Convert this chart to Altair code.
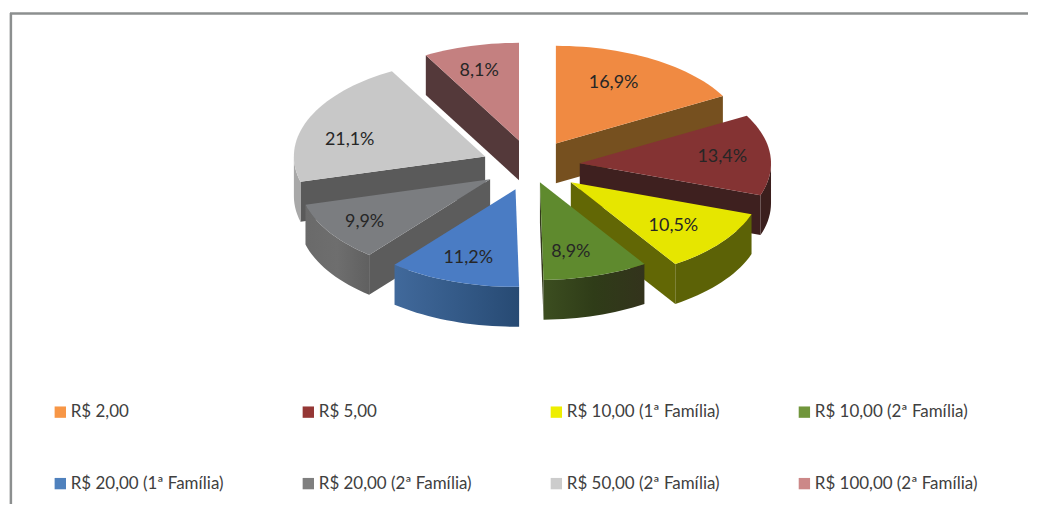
import math
import altair as alt

# ---- chart values ----
categories = ["R$ 2,00", "R$ 5,00", "R$ 10,00 (1ª Família)", "R$ 10,00 (2ª Família)",
              "R$ 20,00 (1ª Família)", "R$ 20,00 (2ª Família)", "R$ 50,00 (2ª Família)", "R$ 100,00 (2ª Família)"]
shares = [16.9, 13.4, 10.5, 8.9, 11.2, 9.9, 21.1, 8.1]
labels = ["16,9%", "13,4%", "10,5%", "8,9%", "11,2%", "9,9%", "21,1%", "8,1%"]

# ---- styles ----
legend_colors = ["#f79646", "#953735", "#eeee00", "#71963c", "#4f81bd", "#7f7f7f", "#cccccc", "#cc8888"]
top_colors = ["#f08a42", "#843333", "#e6e600", "#5f8a2e", "#4a7cc4", "#7b7d80", "#c8c8c8", "#c48080"]
face_colors = ["#76501f", "#3e201f", "#626705", "#33391c", "#345a88", "#5c5c5c", "#5a5a5a", "#54393a"]
wall_colors = ["#76501f", "#3b1f1d", "#5c6206", "#33391c", "#345a88", "#6e6e6e", "#a8a8a8", "#54393a"]

# ---- layout (page pixels) ----
W, H = 1022, 497
apexes = [(556, 143), (580, 163), (571, 182), (540, 182), (515.5, 189), (490, 179), (485, 156), (519, 140)]
label_pos = [(614, 82), (723, 157), (674, 226), (571, 252), (468, 258), (364, 222), (349, 140), (479, 70)]
RX, RY, DEPTH = 192, 98, 40
paint_order = [7, 6, 0, 1, 5, 2, 4, 3]
FONT = "Lato"

x_scale = alt.Scale(domain=[8, 8 + W], range=[0, W], nice=False, zero=False)
y_scale = alt.Scale(domain=[8 + H, 8], range=[H, 0], nice=False, zero=False)
X = lambda f: alt.X(f, type="quantitative", scale=x_scale, axis=None)
Y = lambda f: alt.Y(f, type="quantitative", scale=y_scale, axis=None)

total = sum(shares)
edges = [0.0]
for s in shares:
    edges.append(edges[-1] + s / total * 360)


def rim(ax, ay, a, dy=0):
    t = math.radians(a)
    return (ax + RX * math.sin(t), ay - RY * math.cos(t) + dy)


def arc(ax, ay, a0, a1, dy=0):
    n = max(2, int((a1 - a0) / 2) + 1)
    return [rim(ax, ay, a0 + (a1 - a0) * k / (n - 1), dy) for k in range(n)]


def piece(points, fill):
    rows = [{"px": p[0], "py": p[1], "i": k} for k, p in enumerate(points)]
    return alt.Chart(alt.Data(values=rows)).mark_line(fill=fill, strokeWidth=0).encode(
        x=X("px"), y=Y("py"), order=alt.Order("i:Q"))


def grad(c0, c1, c2):
    return alt.LinearGradient(
        gradient="linear", x1=0, y1=0, x2=1, y2=0,
        stops=[alt.GradientStop(color=c0, offset=0), alt.GradientStop(color=c1, offset=0.5),
               alt.GradientStop(color=c2, offset=1)])


wall_fill = {i: c for i, c in enumerate(wall_colors)}
wall_fill[4] = grad("#41699b", "#345a88", "#274a73")
wall_fill[3] = grad("#3c4e20", "#2f3c18", "#33331c")
wall_fill[5] = grad("#6a6a6a", "#6e6e6e", "#606060")

layers = []

# frame of the figure
frame = [{"a": 8, "b": 8 + W, "c": 12.5}]
layers.append(alt.Chart(alt.Data(values=frame)).mark_rule(color="#8c8f8f", strokeWidth=2.5).encode(
    x=X("a"), x2=alt.X2("b"), y=Y("c")))
frame2 = [{"a": 12, "b": 8 + H, "c": 8.9}]
layers.append(alt.Chart(alt.Data(values=frame2)).mark_rule(color="#8c8f8f", strokeWidth=2.5).encode(
    y=Y("a"), y2=alt.Y2("b"), x=X("c")))

# legend carrier: tiny squares hidden beneath the slices
table = [{"cat": c, "share": s, "label": l, "lx": p[0], "ly": p[1]}
         for c, s, l, p in zip(categories, shares, labels, label_pos)]
legend = alt.Legend(
    title=None, orient="none", legendX=42, legendY=396, columns=4, direction="horizontal", symbolType="square",
    symbolSize=130, symbolStrokeWidth=0, labelFont=FONT, labelFontSize=17, labelColor="#404040",
    labelLimit=300, columnPadding=66, rowPadding=54, labelOffset=2, gridAlign="all",
    symbolOpacity=1)
layers.append(alt.Chart(alt.Data(values=table)).mark_square(size=1).encode(
    x=X("lx"), y=Y("ly"),
    fill=alt.Fill("cat:N", legend=legend, scale=alt.Scale(domain=categories, range=legend_colors))))

# slices, back to front
for i in paint_order:
    ax, ay = apexes[i]
    a0, a1 = edges[i], edges[i + 1]
    # visible cut faces
    if math.sin(math.radians(a0)) < -1e-6:
        p = rim(ax, ay, a0)
        layers.append(piece([(ax, ay), p, (p[0], p[1] + DEPTH), (ax, ay + DEPTH)], face_colors[i]))
    if math.sin(math.radians(a1)) > 1e-6:
        p = rim(ax, ay, a1)
        layers.append(piece([(ax, ay), p, (p[0], p[1] + DEPTH), (ax, ay + DEPTH)], face_colors[i]))
    # outer wall
    w0, w1 = max(a0, 90), min(a1, 270)
    if w1 > w0:
        layers.append(piece(arc(ax, ay, w0, w1) + arc(ax, ay, w0, w1, DEPTH)[::-1], wall_fill[i]))
    # top
    layers.append(piece([(ax, ay)] + arc(ax, ay, a0, a1), top_colors[i]))

# percent labels
layers.append(alt.Chart(alt.Data(values=table)).mark_text(
    font=FONT, fontSize=18, color="#262626").encode(x=X("lx"), y=Y("ly"), text="label:N"))

chart = alt.layer(*layers).properties(width=W, height=H, padding=0, background="#ffffff").configure_view(
    stroke=None)
chart.save("out.html", embed_options={"renderer": "svg", "actions": False})
